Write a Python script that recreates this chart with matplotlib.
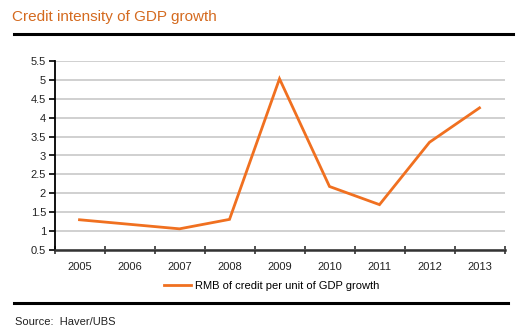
import matplotlib
matplotlib.use('Agg')
import matplotlib.pyplot as plt
from matplotlib.lines import Line2D

plt.rcParams['font.family'] = ['Liberation Sans Narrow', 'Liberation Sans', 'DejaVu Sans']

# Dados
anos = ['2005', '2006', '2007', '2008', '2009', '2010', '2011', '2012', '2013']
credito_por_pib = [1.30, 1.18, 1.06, 1.31, 5.03, 2.18, 1.70, 3.35, 4.26]
y_ticks = [0.5, 1, 1.5, 2, 2.5, 3, 3.5, 4, 4.5, 5, 5.5]
y_labels = ['0.5', '1', '1.5', '2', '2.5', '3', '3.5', '4', '4.5', '5', '5.5']

W, H = 529, 333
fig = plt.figure(figsize=(W / 100, H / 100), dpi=100)
ax = fig.add_axes([54.5 / W, 1 - 250 / H, 450 / W, 189 / H])

x = list(range(len(anos)))
ax.plot(x, credito_por_pib, color='#F07020', lw=2.0, solid_joinstyle='miter',
        label='RMB of credit per unit of GDP growth')

ax.set_xlim(-0.5, len(anos) - 0.5)
ax.set_ylim(0.5, 5.5)
ax.set_yticks(y_ticks)
ax.set_yticklabels(y_labels)
ax.yaxis.grid(True, color='#C8C8C8', lw=1.2)
ax.set_axisbelow(True)

# ticks nas fronteiras das categorias, rótulos no centro
ax.set_xticks([i - 0.5 for i in range(len(anos) + 1)])
ax.set_xticklabels([])
ax.set_xticks(x, minor=True)
ax.set_xticklabels(anos, minor=True)
ax.tick_params(axis='x', which='major', direction='inout', length=6, width=1.2, color='#333333')
ax.tick_params(axis='x', which='minor', length=0, pad=9, labelsize=8, labelcolor='#222222')
ax.tick_params(axis='y', direction='out', length=4, width=1.2, pad=2, labelsize=8, labelcolor='#222222')

for s in ['top', 'right']:
    ax.spines[s].set_visible(False)
ax.spines['left'].set_linewidth(1.3)
ax.spines['bottom'].set_linewidth(1.8)
ax.spines['bottom'].set_color('#333333')

fig.legend(loc='center', bbox_to_anchor=(272 / W, 1 - 286 / H), frameon=False,
           fontsize=8, handlelength=2.4, handletextpad=0.4)

# título e linhas de separação
fig.text(12 / W, 1 - 17 / H, 'Credit intensity of GDP growth', color='#D46A1F',
         fontsize=11, va='center', ha='left')
fig.add_artist(Line2D([14 / W, 513 / W], [1 - 34 / H, 1 - 34 / H], color='black', lw=2.2))
fig.add_artist(Line2D([14 / W, 508 / W], [1 - 303 / H, 1 - 303 / H], color='black', lw=2.2))
fig.text(15 / W, 1 - 322 / H, 'Source:  Haver/UBS', color='#222222', fontsize=8,
         va='center', ha='left')

plt.savefig('out.png', dpi=100)
